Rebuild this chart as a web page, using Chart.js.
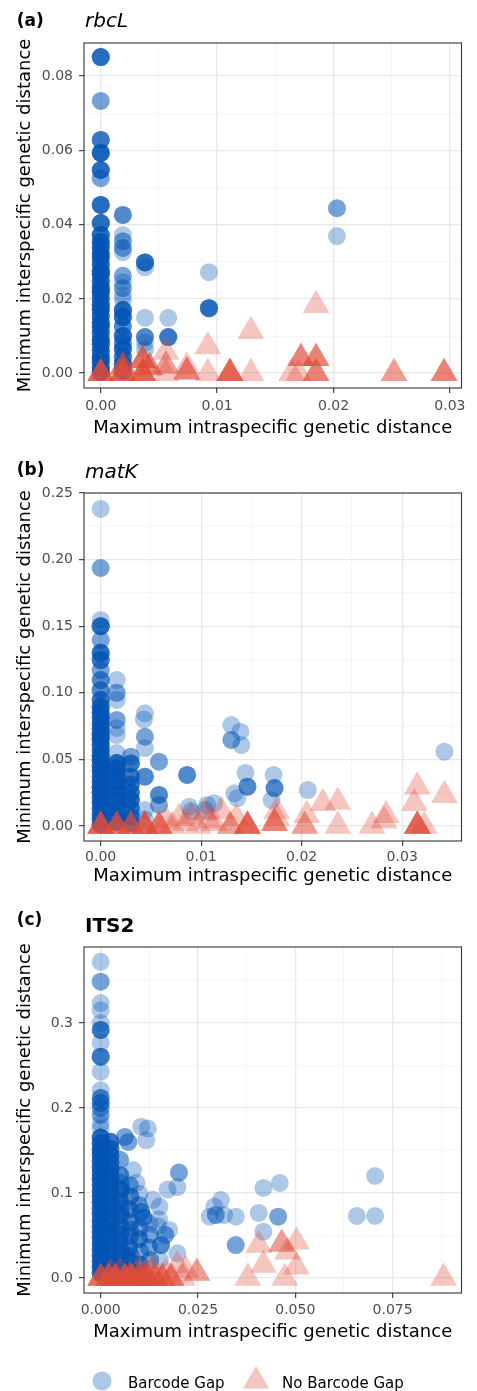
<!DOCTYPE html>
<html><head><meta charset="utf-8">
<script src="https://cdn.jsdelivr.net/npm/chart.js@4.4.1/dist/chart.umd.min.js"></script>
<style>
html,body{margin:0;padding:0;background:#fff;}
body{width:477px;height:1391px;position:relative;overflow:hidden;}
canvas{position:absolute;left:0;}
svg{position:absolute;left:0;top:0;pointer-events:none;}
</style></head><body>
<canvas id="ca" width="477" height="445" style="top:0px"></canvas>
<canvas id="cb" width="477" height="448" style="top:450px"></canvas>
<canvas id="cc" width="477" height="446" style="top:904px"></canvas>
<svg width="477" height="1391" font-family="DejaVu Sans, sans-serif">
  <text x="16.7" y="26" font-weight="bold" font-size="17" fill="#000">(a)</text>
  <text x="85" y="26.7" font-style="italic" font-size="20" fill="#000">rbcL</text>
  <text x="16.7" y="475" font-weight="bold" font-size="17" fill="#000">(b)</text>
  <text x="85" y="478" font-style="italic" font-size="20" fill="#000">matK</text>
  <text x="16.7" y="925" font-weight="bold" font-size="17" fill="#000">(c)</text>
  <text x="85" y="931.5" font-weight="bold" font-size="20" fill="#000">ITS2</text>
  <circle cx="102" cy="1381" r="9.5" fill="rgba(0,84,181,0.32)"/>
  <polygon points="256,1366 243,1388.5 269,1388.5" fill="rgba(224,74,56,0.32)"/>
  <text x="128" y="1388" font-size="15" fill="#000">Barcode Gap</text>
  <text x="282" y="1388" font-size="15" fill="#000">No Barcode Gap</text>
</svg>
<script>
// ---- data: [maxIntraspecific, minInterspecific, overlapping count] ----
const rbcLGap = [
 [0,0.0851,5],[0,0.0733,2],[0,0.0628,4],[0,0.0593,6],[0,0.0547,5],[0,0.0525,2],[0,0.0453,5],[0,0.0404,5],
 [0,0.0372,5],[0,0.0353,5],[0,0.0340,5],[0,0.0322,5],[0,0.0311,5],[0,0.0294,5],[0,0.0275,5],[0,0.0266,5],
 [0,0.0247,5],[0,0.0229,5],[0,0.0218,5],[0,0.0201,5],[0,0.0183,5],[0,0.0171,5],[0,0.0154,5],[0,0.0136,5],
 [0,0.0125,5],[0,0.0108,5],[0,0.0089,5],[0,0.0078,5],[0,0.0061,5],[0,0.0043,5],[0,0.0031,5],[0,0.0015,5],[0,0.0003,5],
 [0.0019,0.0426,3],[0.0019,0.0372,1],[0.0019,0.0355,2],[0.0019,0.0337,2],[0.0019,0.0326,1],[0.0019,0.0262,2],
 [0.0019,0.0245,1],[0.0019,0.0229,2],[0.0019,0.0210,1],[0.0019,0.0197,1],[0.0019,0.0170,5],[0.0019,0.0151,5],
 [0.0019,0.0126,3],[0.0019,0.0100,5],[0.0019,0.0082,3],[0.0019,0.0065,5],[0.0019,0.0043,4],[0.0019,0.0024,5],[0.0019,0.0006,4],
 [0.0038,0.0298,5],[0.0038,0.0285,1],[0.0038,0.0149,1],[0.0038,0.0097,3],[0.0038,0.0082,1],[0.0038,0.0064,1],
 [0.0058,0.0149,1],[0.0058,0.0097,4],[0.0093,0.0272,1],[0.0093,0.0175,5],[0.0203,0.0444,2],[0.0203,0.0369,1]
];
const rbcLNoGap = [
 [0,0,5],[0.0019,0,5],[0.0019,0.0017,3],[0.0036,0,5],[0.0036,0.0035,4],[0.0042,0.0015,3],[0.0056,0,1],
 [0.0056,0.0020,2],[0.0056,0.0057,1],[0.0074,0.0004,3],[0.0074,0.0017,1],[0.0092,0,1],[0.0092,0.0072,1],
 [0.0111,0,5],[0.0129,0,1],[0.0129,0.0113,1],[0.0185,0.0183,1],[0.0164,0,1],[0.0170,0,1],[0.0172,0.0040,3],
 [0.0185,0.0040,3],[0.0185,0,3],[0.0252,0,2],[0.0295,0,3]
];
const matKGap = [
 [0,0.238,1],[0,0.1937,2],[0,0.1547,1],[0,0.150,5],[0,0.1396,2],[0,0.130,5],[0,0.1246,4],[0,0.117,2],
 [0,0.1096,3],[0,0.102,3],[0,0.0946,4],
 [0,0.0893,5],[0,0.0851,5],[0,0.0812,5],[0,0.0768,5],[0,0.0731,5],[0,0.0689,5],[0,0.0652,5],[0,0.0608,5],
 [0,0.0571,5],[0,0.0529,5],[0,0.0493,5],[0,0.0450,5],[0,0.0412,5],[0,0.0369,5],[0,0.0331,5],[0,0.0290,5],
 [0,0.0252,5],[0,0.0211,5],[0,0.0172,5],[0,0.0130,5],[0,0.0091,5],[0,0.0052,5],[0,0.0012,5],
 [0.0016,0.1096,1],[0.0016,0.1000,2],[0.0016,0.0946,1],[0.0016,0.0796,2],[0.0016,0.0736,1],[0.0016,0.0683,1],
 [0.0016,0.0548,1],[0.0016,0.0473,5],[0.0016,0.0431,5],[0.0016,0.0378,5],[0.0016,0.0334,5],[0.0016,0.0281,5],
 [0.0016,0.0232,5],[0.0016,0.0183,5],[0.0016,0.0129,5],[0.0016,0.0084,5],[0.0016,0.0031,5],
 [0.003,0.052,2],[0.003,0.047,4],[0.003,0.037,4],[0.003,0.031,4],[0.003,0.025,4],[0.003,0.0195,5],
 [0.003,0.013,4],[0.003,0.007,4],[0.003,0.002,4],
 [0.0044,0.0846,1],[0.0043,0.080,1],[0.0044,0.067,2],[0.0044,0.0585,1],[0.0044,0.037,3],[0.0044,0.012,1],[0.0044,0.005,1],
 [0.0058,0.0483,2],[0.0058,0.0233,3],[0.0058,0.0158,2],[0.0086,0.0383,3],[0.0088,0.0145,1],[0.0090,0.011,1],
 [0.0104,0.012,1],[0.0113,0.017,1],[0.0106,0.0158,1],
 [0.0130,0.0758,1],[0.0139,0.0708,1],[0.0130,0.0646,2],[0.0140,0.0608,1],[0.0144,0.0398,1],[0.0146,0.0295,3],
 [0.0133,0.0245,1],[0.0136,0.021,1],[0.0172,0.0383,1],[0.0173,0.0285,3],[0.0170,0.0195,1],[0.0206,0.027,1],[0.0342,0.0558,1]
];
const matKNoGap = [
 [0,0,5],[0.0016,0,4],[0.003,0,3],[0.0044,0,5],[0.0058,0,4],[0.0065,0.004,1],[0.0071,0,1],[0.0078,0.006,1],
 [0.0084,0.002,1],[0.0090,0.007,1],[0.0097,0,1],[0.0104,0.010,1],[0.0108,0.004,1],[0.0113,0.002,1],[0.0120,0.011,1],
 [0.0129,0,2],[0.0135,0.006,1],[0.0146,0,5],[0.0173,0.002,3],[0.0175,0.011,1],[0.0175,0.006,1],[0.0203,0,2],
 [0.0205,0.008,1],[0.0221,0.017,1],[0.0236,0.018,1],[0.0236,0,1],[0.0270,0,1],[0.0282,0.004,1],[0.0284,0.008,1],
 [0.0315,0.0295,1],[0.0312,0.017,1],[0.0315,0,5],[0.0322,0,1],[0.0342,0.023,1]
];
const its2Gap = [
 [0,0.372,1],[0,0.3486,2],[0,0.3235,1],[0,0.315,1],[0,0.300,1],[0,0.2918,4],[0,0.2765,1],[0,0.2604,4],
 [0,0.2427,1],[0,0.221,1],[0,0.2118,3],[0,0.206,3],[0,0.200,2],[0,0.1918,2],[0,0.182,1],[0,0.176,1],
 [0,0.1652,5],[0,0.1583,5],[0,0.1511,5],[0,0.1446,5],[0,0.1372,5],[0,0.1305,5],[0,0.1238,5],[0,0.1164,5],
 [0,0.1097,5],[0,0.1025,5],[0,0.0958,5],[0,0.0891,5],[0,0.0817,5],[0,0.0752,5],[0,0.0679,5],[0,0.0613,5],
 [0,0.0541,5],[0,0.0476,5],[0,0.0402,5],[0,0.0335,5],[0,0.0264,5],[0,0.0197,5],[0,0.0126,5],[0,0.0058,5],
 [0.0025,0.1602,4],[0.0025,0.1521,4],[0.0025,0.1437,4],[0.0025,0.1358,4],[0.0025,0.1280,4],[0.0025,0.1196,4],
 [0.0025,0.1118,4],[0.0025,0.1039,4],[0.0025,0.0957,4],[0.0025,0.0879,4],[0.0025,0.0798,4],[0.0025,0.0716,4],
 [0.0025,0.0637,4],[0.0025,0.0559,4],[0.0025,0.0478,4],[0.0025,0.0397,4],[0.0025,0.0318,4],[0.0025,0.0239,4],
 [0.0025,0.0158,4],[0.0025,0.0079,4],[0.0025,0.0012,4],
 [0.0062,0.166,2],[0.0071,0.160,2],[0.0104,0.178,1],[0.0121,0.176,1],[0.0117,0.162,1],[0.0050,0.139,2],
 [0.0083,0.127,1],[0.0092,0.112,1],[0.0201,0.124,2],[0.0197,0.107,1],[0.0172,0.104,1],[0.0134,0.092,1],
 [0.0104,0.078,3],[0.0110,0.071,3],[0.0151,0.084,1],[0.0176,0.0565,1],[0.0166,0.0506,2],[0.0155,0.0388,3],
 [0.0197,0.029,1],[0.0066,0.025,3],
 [0.0050,0.121,3],[0.0052,0.112,2],[0.0052,0.104,4],[0.0049,0.091,4],[0.0051,0.082,3],[0.0051,0.074,4],[0.0050,0.061,4],
 [0.0050,0.052,3],[0.0048,0.044,4],[0.0052,0.031,4],[0.0050,0.022,3],[0.0050,0.014,4],[0.0049,0.006,3],
 [0.0075,0.109,2],[0.0076,0.096,3],[0.0074,0.081,3],[0.0077,0.066,3],[0.0075,0.057,2],[0.0075,0.049,3],[0.0073,0.036,3],
 [0.0076,0.027,2],[0.0076,0.019,3],[0.0075,0.008,3],
 [0.0100,0.099,1],[0.0098,0.086,2],[0.0101,0.059,2],[0.0099,0.046,3],[0.0102,0.031,2],[0.0100,0.016,3],[0.0101,0.006,2],
 [0.0125,0.064,1],[0.0126,0.051,2],[0.0124,0.036,2],[0.0127,0.021,2],[0.0150,0.069,1],[0.0148,0.061,1],[0.0152,0.021,1],
 [0.0280,0.0722,1],[0.0296,0.074,2],[0.0309,0.0918,1],[0.0292,0.084,1],[0.0317,0.074,1],[0.0347,0.0722,1],
 [0.0347,0.0388,2],[0.0406,0.0765,1],[0.0418,0.106,1],[0.0418,0.0545,1],[0.0460,0.1118,1],[0.0456,0.0722,2],
 [0.0658,0.073,1],[0.0705,0.073,1],[0.0705,0.120,1]
];
const its2NoGap = [
 [0,0,4],[0.0021,0,4],[0.0038,0,4],[0.0062,0,4],[0.0079,0,4],[0.0098,0,4],[0.0121,0,4],[0.0139,0,4],
 [0.0158,0,3],[0.0181,0,3],
 [0.0025,0.006,1],[0.0075,0.002,2],[0.0096,0.0094,1],[0.0134,0.0118,1],[0.0167,0.006,1],[0.0197,0.015,1],
 [0.0218,0.0094,1],[0.0247,0.006,2],[0.0210,0,1],[0.0050,0.008,1],[0.0115,0.004,2],
 [0.0378,0,1],[0.0406,0.0388,1],[0.0418,0.0153,1],[0.0465,0.040,2],[0.0480,0.031,1],[0.0503,0.0427,1],
 [0.0503,0.0133,1],[0.0473,0,1],[0.0881,0,1]
];
const seriesLabels = ['Barcode Gap', 'No Barcode Gap'];
const xTitle = 'Maximum intraspecific genetic distance';
const yTitle = 'Minimum interspecific genetic distance';

const FONT = "'DejaVu Sans', sans-serif";
const BLUE = 'rgba(0,84,181,0.32)';
const RED = 'rgba(224,74,56,0.32)';

function expand(tr){ const out=[]; tr.forEach(([x,y,n])=>{ for(let i=0;i<n;i++) out.push({x:x,y:y}); }); return out; }
function isMult(v, step){ const r=v/step; return Math.abs(r-Math.round(r))<1e-6; }

const frame = { id:'frame', afterDatasetsDraw(chart){
  const {ctx, chartArea:a} = chart; ctx.save(); ctx.strokeStyle='#333'; ctx.lineWidth=1.1;
  ctx.strokeRect(a.left, a.top, a.right-a.left, a.bottom-a.top); ctx.restore(); } };

function scaleOpts(axis, P){
  const major = P[axis+'Major'], dec = P[axis+'Dec'];
  const o = {
    type:'linear', min:P[axis+'Min'], max:P[axis+'Max'],
    ticks:{ stepSize:P[axis+'Minor'], includeBounds:false, autoSkip:false, maxRotation:0, minRotation:0,
      padding: axis==='x' ? P.xTickPad : 6, color:'#4d4d4d', font:{family:FONT, size:14},
      callback:(v)=> isMult(v,major) ? Number(v).toFixed(dec) : '' },
    grid:{
      color:(c)=> (c.tick && isMult(c.tick.value,major)) ? '#e8e8e8' : '#f2f2f2',
      lineWidth:(c)=> (c.tick && isMult(c.tick.value,major)) ? 1.3 : 0.8,
      tickColor:(c)=> (c.tick && isMult(c.tick.value,major)) ? '#333' : 'rgba(0,0,0,0)',
      tickLength:5, tickWidth:1.1 },
    border:{display:false},
    title:{display:true, text: axis==='x' ? xTitle : yTitle, color:'#000', font:{family:FONT, size:18},
      padding: axis==='x' ? {top:0, bottom:P.xTitlePad} : {top:15, bottom:0}}
  };
  if (axis==='x') { o.position='bottom'; o.afterFit=(s)=>{ s.height=57; }; }
  else { o.position='left'; o.afterFit=(s)=>{ s.width=84; }; }
  return o;
}

function makePanel(id, gap, noGap, P){
  return new Chart(document.getElementById(id), {
    type:'scatter',
    data:{ datasets:[
      { label:seriesLabels[1], data:expand(noGap), pointStyle:'triangle', pointRadius:15.5, backgroundColor:RED, borderWidth:0, pointBorderWidth:0 },
      { label:seriesLabels[0], data:expand(gap), pointStyle:'circle', pointRadius:9, backgroundColor:BLUE, borderWidth:0, pointBorderWidth:0 }
    ]},
    options:{
      responsive:false, animation:false, events:[],
      layout:{ padding:{ top:43, right:9, left:0, bottom:0 } },
      plugins:{ legend:{display:false}, tooltip:{enabled:false} },
      scales:{ x:scaleOpts('x',P), y:scaleOpts('y',P) }
    },
    plugins:[frame]
  });
}

makePanel('ca', rbcLGap, rbcLNoGap, {
  xMin:-0.00144, xMax:0.0310, xMajor:0.01, xMinor:0.005, xDec:2,
  yMin:-0.0040, yMax:0.0889, yMajor:0.02, yMinor:0.01, yDec:2, xTickPad:5.3, xTitlePad:5.5 });
makePanel('cb', matKGap, matKNoGap, {
  xMin:-0.00166, xMax:0.0359, xMajor:0.01, xMinor:0.005, xDec:2,
  yMin:-0.01126, yMax:0.250, yMajor:0.05, yMinor:0.025, yDec:2, xTickPad:3.1, xTitlePad:10.5 });
makePanel('cc', its2Gap, its2NoGap, {
  xMin:-0.00429, xMax:0.0927, xMajor:0.025, xMinor:0.0125, xDec:3,
  yMin:-0.01765, yMax:0.3894, yMajor:0.1, yMinor:0.05, yDec:1, xTickPad:3.6, xTitlePad:6.7 });
</script>
</body></html>
